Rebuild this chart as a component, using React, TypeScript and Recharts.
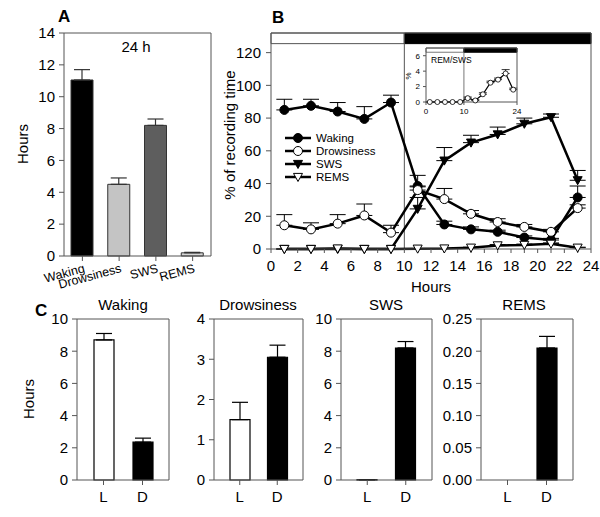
import React from "react";
import {
  BarChart,
  Bar,
  LineChart,
  Line,
  XAxis,
  YAxis,
  ErrorBar,
  Cell,
  ReferenceArea,
  ReferenceLine,
} from "recharts";

const FONT = '"Liberation Sans", Arial, sans-serif';
const AXIS = "#555";

// A: totals over 24 h
const stages = ["Waking", "Drowsiness", "SWS", "REMS"];
const stageHours = [11.05, 4.5, 8.2, 0.2];
const stageSE = [0.65, 0.4, 0.4, 0.03];
const stageColors = ["#000000", "#c4c4c4", "#5e5e5e", "#d6d6d6"];
const ticksA = [0, 2, 4, 6, 8, 10, 12, 14];

// B: hourly time course (2 h bins)
const binHours = [1, 3, 5, 7, 9, 11, 13, 15, 17, 19, 21, 23];
const wakingPct = [85, 87.5, 84, 79.5, 89.5, 38.5, 15, 12, 10.5, 7, 5.5, 31.5];
const wakingSE = [6.5, 4, 5.5, 7.5, 4.5, 6.5, 2, 1.5, 1, 1, 1, 7];
const drowsPct = [14.5, 12, 15.5, 20.5, 10, 36, 30.5, 21.5, 16.5, 13.5, 10.5, 25];
const drowsSE = [6.5, 4, 5.5, 7, 4.5, 2, 6.5, 2, 2, 1.5, 1.5, 2];
const swsPct = [0, 0, 0, 0, 0, 24.5, 54, 65, 70, 76.5, 80.5, 42];
const swsSE = [0, 0, 0, 0, 0, 7, 8, 4.5, 4.5, 3.5, 2, 6];
const remsPct = [0, 0, 0.3, 0, 0, 0.2, 0.3, 0.8, 2.2, 2.5, 3.2, 0.8];
const remsSE = [0, 0, 0, 0, 0, 0, 0, 0.3, 0.5, 0.5, 0.5, 0.3];
const hourTicks = [0, 1, 2, 3, 4, 5, 6, 7, 8, 9, 10, 11, 12, 13, 14, 15, 16, 17, 18, 19, 20, 21, 22, 23, 24];
const pctTicks = [0, 20, 40, 60, 80, 100, 120];

// B inset: REM/SWS ratio
const remSwsPct = [0, 0, 0, 0, 0, 0.5, 0.2, 1.0, 2.5, 2.9, 3.7, 1.6];
const remSwsSE = [0, 0, 0, 0, 0, 0.15, 0.1, 0.2, 0.2, 0.2, 0.5, 0.2];
const insetXTicks = [0, 10, 24];
const insetYTicks = [0, 2, 4, 6];

// C: light vs dark
const phases = ["L", "D"];
const wakingLD = [8.7, 2.35];
const wakingLDSE = [0.4, 0.25];
const drowsLD = [1.5, 3.05];
const drowsLDSE = [0.43, 0.3];
const swsLD = [0.02, 8.2];
const swsLDSE = [0, 0.4];
const remsLD = [0, 0.205];
const remsLDSE = [0, 0.018];
const ticksC10 = [0, 2, 4, 6, 8, 10];
const ticksC4 = [0, 1, 2, 3, 4];
const ticksCrem = [0, 0.05, 0.1, 0.15, 0.2, 0.25];

const dataA = stages.map((s, i) => ({ s, v: stageHours[i], e: [0, stageSE[i]] }));

const rowsB = binHours.map((h, i) => ({
  h,
  waking: wakingPct[i],
  wakingE: [0, wakingSE[i]],
  drows: drowsPct[i],
  drowsE: [0, drowsSE[i]],
  sws: swsPct[i],
  swsE: [0, swsSE[i]],
  rems: remsPct[i],
  remsE: [0, remsSE[i]],
  ratio: remSwsPct[i],
  ratioE: [0, remSwsSE[i]],
}));

const tickStyle = { fill: "#000", fontSize: 15, fontFamily: FONT };

const tri = (fill: string, s = 4.5) => (p: any) => {
  const { cx, cy, index } = p;
  if (cx == null || cy == null) return <g key={index} />;
  return (
    <path
      key={index}
      d={`M${cx - s},${cy - s * 0.8} L${cx + s},${cy - s * 0.8} L${cx},${cy + s} Z`}
      fill={fill}
      stroke="#000"
      strokeWidth={1}
    />
  );
};

const SlantTick = (p: any) => {
  const { x, y, payload } = p;
  const tx = x + 3;
  const ty = y + 9;
  return (
    <text x={tx} y={ty} textAnchor="end" fontSize={12.5} fontFamily={FONT} fill="#000" transform={`rotate(-15, ${tx}, ${ty})`}>
      {payload.value}
    </text>
  );
};

function SmallPanel({ left, width, yWidth, values, errs, ticks, fmt }: any) {
  const data = phases.map((c, i) => ({ c, v: values[i], e: [0, errs[i]] }));
  return (
    <div style={{ position: "absolute", left, top: 290 }}>
      <BarChart width={width} height={227} data={data} margin={{ top: 28, right: 2, bottom: 0, left: 0 }}>
        <XAxis dataKey="c" height={37} padding={{ left: 7, right: 7 }} stroke={AXIS} tick={tickStyle} tickSize={5} tickMargin={6} />
        <XAxis xAxisId="top" orientation="top" dataKey="c" height={1} tick={false} tickLine={false} stroke={AXIS} />
        <YAxis
          width={yWidth}
          type="number"
          domain={[ticks[0], ticks[ticks.length - 1]]}
          ticks={ticks}
          interval={0}
          tickFormatter={fmt}
          stroke={AXIS}
          tick={tickStyle}
          tickSize={5}
          tickMargin={4}
        />
        <YAxis yAxisId="r" orientation="right" width={1} domain={[0, 1]} tick={false} tickLine={false} stroke={AXIS} />
        <Bar dataKey="v" barSize={20} stroke="#000" strokeWidth={1.2} isAnimationActive={false}>
          {data.map((d, i) => (
            <Cell key={d.c} fill={i === 0 ? "#ffffff" : "#000000"} />
          ))}
          <ErrorBar dataKey="e" width={8} stroke="#000" strokeWidth={1.2} />
        </Bar>
      </BarChart>
    </div>
  );
}

const legendItems = [
  { name: "Waking", y: 138, kind: "circle", fill: "#000" },
  { name: "Drowsiness", y: 151, kind: "circle", fill: "#fff" },
  { name: "SWS", y: 164, kind: "tri", fill: "#000" },
  { name: "REMS", y: 177, kind: "tri", fill: "#fff" },
];

export default function App() {
  return (
    <div style={{ position: "absolute", left: 0, top: 0, width: 600, height: 517, background: "#fff", fontFamily: FONT }}>
      {/* A */}
      <div style={{ position: "absolute", left: 0, top: 0 }}>
        <BarChart width={212} height={300} data={dataA} margin={{ top: 32, right: 0, bottom: 0, left: 0 }}>
          <XAxis dataKey="s" height={44} stroke={AXIS} tick={<SlantTick />} tickSize={5} interval={0} />
          <XAxis xAxisId="top" orientation="top" dataKey="s" height={1} tick={false} tickLine={false} stroke={AXIS} />
          <YAxis width={64} domain={[0, 14]} ticks={ticksA} interval={0} stroke={AXIS} tick={tickStyle} tickSize={5} tickMargin={4} />
          <YAxis yAxisId="r" orientation="right" width={1} domain={[0, 1]} tick={false} tickLine={false} stroke={AXIS} />
          <Bar dataKey="v" barSize={22} stroke="#333" strokeWidth={1} isAnimationActive={false}>
            {dataA.map((d, i) => (
              <Cell key={d.s} fill={stageColors[i]} />
            ))}
            <ErrorBar dataKey="e" width={8} stroke="#333" strokeWidth={1.2} />
          </Bar>
        </BarChart>
      </div>

      {/* B */}
      <div style={{ position: "absolute", left: 200, top: 0 }}>
        <LineChart width={400} height={300} data={rowsB} margin={{ top: 32, right: 8, bottom: 0, left: 0 }}>
          <XAxis
            dataKey="h"
            type="number"
            domain={[0, 24]}
            ticks={hourTicks}
            interval={0}
            tickFormatter={(v: number) => (v % 2 === 0 ? String(v) : "")}
            height={51}
            stroke={AXIS}
            tick={tickStyle}
            tickSize={4}
            tickMargin={7}
          />
          <XAxis xAxisId="top" orientation="top" type="number" domain={[0, 24]} height={1} tick={false} tickLine={false} stroke={AXIS} />
          <YAxis width={71} type="number" domain={[0, 132]} ticks={pctTicks} interval={0} stroke={AXIS} tick={tickStyle} tickSize={5} tickMargin={5} />
          <YAxis yAxisId="r" orientation="right" width={1} domain={[0, 1]} tick={false} tickLine={false} stroke={AXIS} />
          <ReferenceArea x1={0} x2={10} y1={125.5} y2={132} fill="#fff" fillOpacity={1} stroke={AXIS} />
          <ReferenceArea x1={10} x2={24} y1={125.5} y2={132} fill="#000" fillOpacity={1} stroke="#000" />
          <ReferenceLine x={10} stroke={AXIS} strokeWidth={1} />
          <Line dataKey="waking" stroke="#000" strokeWidth={2.5} dot={{ r: 4.5, fill: "#000", stroke: "#000", strokeWidth: 1 }} isAnimationActive={false}>
            <ErrorBar dataKey="wakingE" direction="y" width={8} stroke="#000" strokeWidth={1} />
          </Line>
          <Line dataKey="drows" stroke="#000" strokeWidth={2.5} dot={{ r: 4.5, fill: "#fff", stroke: "#000", strokeWidth: 1 }} isAnimationActive={false}>
            <ErrorBar dataKey="drowsE" direction="y" width={8} stroke="#000" strokeWidth={1} />
          </Line>
          <Line dataKey="sws" stroke="#000" strokeWidth={2.5} dot={tri("#000")} isAnimationActive={false}>
            <ErrorBar dataKey="swsE" direction="y" width={8} stroke="#000" strokeWidth={1} />
          </Line>
          <Line dataKey="rems" stroke="#000" strokeWidth={2.5} dot={tri("#fff")} isAnimationActive={false}>
            <ErrorBar dataKey="remsE" direction="y" width={8} stroke="#000" strokeWidth={1} />
          </Line>
        </LineChart>
      </div>

      {/* B inset */}
      <div style={{ position: "absolute", left: 400, top: 40 }}>
        <LineChart width={125} height={85} data={rowsB} margin={{ top: 7, right: 7, bottom: 0, left: 0 }}>
          <XAxis
            dataKey="h"
            type="number"
            domain={[0, 24]}
            ticks={insetXTicks}
            interval={0}
            height={23}
            stroke={AXIS}
            tick={{ fill: "#000", fontSize: 8, fontFamily: FONT }}
            tickSize={3}
            tickMargin={3}
          />
          <XAxis xAxisId="top" orientation="top" type="number" domain={[0, 24]} height={1} tick={false} tickLine={false} stroke={AXIS} />
          <YAxis
            width={26}
            type="number"
            domain={[0, 7]}
            ticks={insetYTicks}
            interval={0}
            stroke={AXIS}
            tick={{ fill: "#000", fontSize: 8, fontFamily: FONT }}
            tickSize={3}
            tickMargin={3}
          />
          <YAxis yAxisId="r" orientation="right" width={1} domain={[0, 1]} tick={false} tickLine={false} stroke={AXIS} />
          <ReferenceArea x1={0} x2={10} y1={6.45} y2={7} fill="#fff" fillOpacity={1} stroke={AXIS} strokeWidth={0.8} />
          <ReferenceArea x1={10} x2={24} y1={6.45} y2={7} fill="#000" fillOpacity={1} stroke="#000" />
          <ReferenceLine x={10} stroke={AXIS} strokeWidth={0.8} />
          <Line dataKey="ratio" stroke="#000" strokeWidth={1.2} dot={{ r: 2.5, fill: "#fff", stroke: "#000", strokeWidth: 0.8 }} isAnimationActive={false}>
            <ErrorBar dataKey="ratioE" direction="y" width={4} stroke="#000" strokeWidth={0.8} />
          </Line>
        </LineChart>
      </div>

      {/* C */}
      <SmallPanel left={0} width={172} yWidth={77} values={wakingLD} errs={wakingLDSE} ticks={ticksC10} />
      <SmallPanel left={172} width={134} yWidth={42} values={drowsLD} errs={drowsLDSE} ticks={ticksC4} />
      <SmallPanel left={306} width={129} yWidth={35} values={swsLD} errs={swsLDSE} ticks={ticksC10} />
      <SmallPanel
        left={435}
        width={141}
        yWidth={46}
        values={remsLD}
        errs={remsLDSE}
        ticks={ticksCrem}
        fmt={(v: number) => v.toFixed(2)}
      />

      {/* labels */}
      <svg width={600} height={517} style={{ position: "absolute", left: 0, top: 0, pointerEvents: "none" }} fontFamily={FONT}>
        <text x={58} y={22} fontSize={17} fontWeight="bold">A</text>
        <text x={136} y={52} fontSize={15} textAnchor="middle">24 h</text>
        <text x={28} y={144} fontSize={15} textAnchor="middle" transform="rotate(-90, 28, 144)">Hours</text>

        <text x={272} y={23} fontSize={17} fontWeight="bold">B</text>
        <text x={235} y={135} fontSize={15} textAnchor="middle" transform="rotate(-90, 235, 135)">% of recording time</text>
        <text x={431} y={292} fontSize={15} textAnchor="middle">Hours</text>
        {legendItems.map((it) => (
          <g key={it.name}>
            <line x1={285} x2={311} y1={it.y} y2={it.y} stroke="#000" strokeWidth={2.5} />
            {it.kind === "circle" ? (
              <circle cx={298} cy={it.y} r={4.5} fill={it.fill} stroke="#000" strokeWidth={1} />
            ) : (
              <path d={`M${293.5},${it.y - 3.6} L${302.5},${it.y - 3.6} L${298},${it.y + 4.5} Z`} fill={it.fill} stroke="#000" strokeWidth={1} />
            )}
            <text x={316} y={it.y + 4} fontSize={11.5}>{it.name}</text>
          </g>
        ))}
        <text x={431} y={63} fontSize={8.5}>REM/SWS</text>
        <text x={411} y={76} fontSize={8} textAnchor="middle" transform="rotate(-90, 411, 76)">%</text>

        <text x={35} y={316} fontSize={17} fontWeight="bold">C</text>
        <text x={123} y={310} fontSize={15} textAnchor="middle">Waking</text>
        <text x={258} y={310} fontSize={15} textAnchor="middle">Drowsiness</text>
        <text x={386} y={310} fontSize={15} textAnchor="middle">SWS</text>
        <text x={524} y={310} fontSize={15} textAnchor="middle">REMS</text>
        <text x={34} y={399} fontSize={15} textAnchor="middle" transform="rotate(-90, 34, 399)">Hours</text>
      </svg>
    </div>
  );
}
